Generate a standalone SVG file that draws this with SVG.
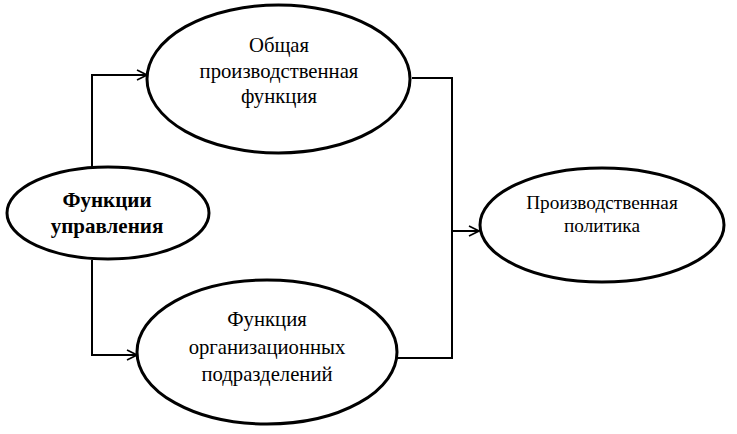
<svg xmlns="http://www.w3.org/2000/svg" width="737" height="434" viewBox="0 0 737 434">
<defs>
<style>
.node{fill:#fff;stroke:#000;stroke-width:3}
.t{font-family:"Liberation Serif","Times New Roman",serif;font-size:20.7px;text-anchor:middle;fill:#000}
.tb{font-family:"Liberation Serif","Times New Roman",serif;font-size:21px;font-weight:bold;text-anchor:middle;fill:#000}
.ts{font-family:"Liberation Serif","Times New Roman",serif;font-size:19.3px;text-anchor:middle;fill:#000}
.c{fill:none;stroke:#000;stroke-width:2}
</style>
<marker id="arr" markerWidth="12" markerHeight="12" refX="11" refY="6" orient="auto" markerUnits="userSpaceOnUse">
<path d="M1,1 L11,6 L1,11" fill="none" stroke="#000" stroke-width="1.6"/>
</marker>
</defs>
<rect width="737" height="434" fill="#fff"/>
<g id="connectors">
<polyline class="c" points="92,167 92,75 147,75" marker-end="url(#arr)"/>
<polyline class="c" points="92,260 92,355 137,355" marker-end="url(#arr)"/>
<polyline class="c" points="412,78 452,78 452,358 397,358"/>
<line class="c" x1="452" y1="231" x2="479" y2="231" marker-end="url(#arr)"/>
</g>
<g id="node-upravlenie">
<ellipse class="node" cx="108" cy="213" rx="101" ry="46"/>
<text class="tb" x="107" y="207">Функции</text>
<text class="tb" x="107" y="233">управления</text>
</g>
<g id="node-obshaya">
<ellipse class="node" cx="278.5" cy="79" rx="131.5" ry="74"/>
<text class="t" x="279" y="52">Общая</text>
<text class="t" x="279" y="78">производственная</text>
<text class="t" x="279" y="103">функция</text>
</g>
<g id="node-podrazdeleniya">
<ellipse class="node" cx="267" cy="352" rx="130" ry="72"/>
<text class="t" x="267" y="326">Функция</text>
<text class="t" x="267" y="354">организационных</text>
<text class="t" x="267" y="381">подразделений</text>
</g>
<g id="node-politika">
<ellipse class="node" cx="602" cy="225" rx="122" ry="57"/>
<text class="ts" x="602" y="209">Производственная</text>
<text class="ts" x="602" y="232">политика</text>
</g>
</svg>
